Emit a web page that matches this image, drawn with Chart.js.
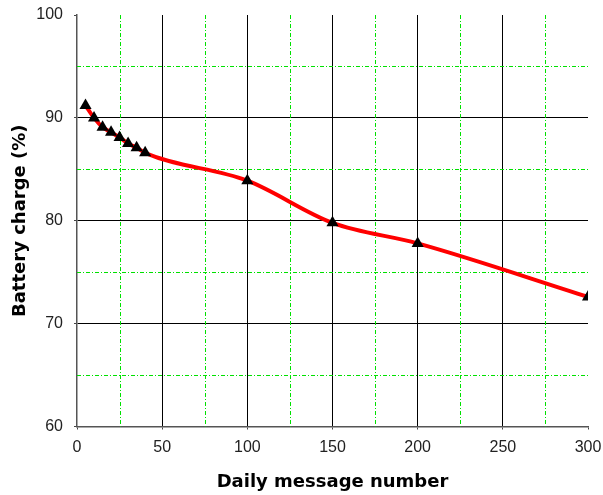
<!DOCTYPE html>
<html>
<head>
<meta charset="utf-8">
<script src="https://cdn.jsdelivr.net/npm/chart.js@4/dist/chart.umd.min.js"></script>
<style>
  html, body { margin: 0; padding: 0; background: #fff; }
  #wrap { width: 603px; height: 495px; position: relative; }
</style>
</head>
<body>
<div id="wrap"><canvas id="chartBattery"></canvas></div>
<script>
const messages = [5, 10, 15, 20, 25, 30, 35, 40, 100, 150, 200, 300];
const charge = [91.2, 90.0, 89.1, 88.6, 88.1, 87.5, 87.1, 86.6, 83.9, 79.8, 77.8, 72.6];
const xTicks = [0, 50, 100, 150, 200, 250, 300];
const yTicks = [60, 70, 80, 90, 100];
const xMinor = [25, 75, 125, 175, 225, 275];
const yMinor = [65, 75, 85, 95];

const GREEN = 'rgb(0, 225, 0)';

// minor grid: green dash-dot lines, drawn under the data
const minorGrid = {
  id: 'minorGrid',
  beforeDatasetsDraw(chart) {
    const { ctx, chartArea: a, scales: { x, y } } = chart;
    ctx.save();
    ctx.strokeStyle = GREEN;
    ctx.lineWidth = 1;
    ctx.setLineDash([4, 2, 1, 2]);
    xMinor.forEach(v => {
      const px = Math.round(x.getPixelForValue(v)) + 0.5;
      ctx.beginPath(); ctx.moveTo(px, Math.round(a.top)); ctx.lineTo(px, a.bottom); ctx.stroke();
    });
    yMinor.forEach(v => {
      const py = Math.round(y.getPixelForValue(v)) + 0.5;
      ctx.beginPath(); ctx.moveTo(Math.round(a.left), py); ctx.lineTo(a.right, py); ctx.stroke();
    });
    ctx.restore();
  },
};

document.addEventListener('DOMContentLoaded', () => {
  const ctx = document.getElementById('chartBattery');

  new Chart(ctx, {
    type: 'line',
    data: {
      datasets: [{
        data: messages.map((m, i) => ({ x: m, y: charge[i] })),
        borderColor: '#ff0000',
        borderWidth: 4,
        cubicInterpolationMode: 'monotone',
        pointStyle: 'triangle',
        pointRadius: 7,
        pointBackgroundColor: '#000',
        pointBorderColor: '#000',
        pointBorderWidth: 0,
        fill: false,
      }],
    },
    plugins: [minorGrid],
    options: {
      responsive: true, maintainAspectRatio: false, animation: false,
      layout: { padding: { top: 15, right: 15, left: 0, bottom: 0 } },
      plugins: { legend: { display: false }, tooltip: { enabled: false } },
      scales: {
        x: {
          type: 'linear', min: 0, max: 300,
          afterFit: (s) => { s.height = 68.5; s.paddingLeft = 0; s.paddingRight = 0; },
          afterBuildTicks: (s) => { s.ticks = xTicks.map(v => ({ value: v })); },
          ticks: {
            autoSkip: false, maxRotation: 0, padding: 8,
            color: '#222', font: { family: 'Liberation Sans', size: 16 },
          },
          grid: {
            color: (c) => c.tick.value === 300 || c.tick.value === 0 ? 'rgba(0,0,0,0)' : '#000',
            tickColor: '#444', tickLength: 3, lineWidth: 1,
          },
          border: { color: '#555', width: 1.5 },
          title: {
            display: true, text: 'Daily message number', color: '#000',
            font: { family: 'DejaVu Sans', size: 18, weight: 'bold' },
            padding: { top: 0, bottom: 2 },
          },
        },
        y: {
          min: 60, max: 100,
          afterFit: (s) => { s.width = 77; s.paddingTop = 0; s.paddingBottom = 0; },
          afterBuildTicks: (s) => { s.ticks = yTicks.map(v => ({ value: v })); },
          ticks: {
            autoSkip: false, padding: 11,
            color: '#222', font: { family: 'Liberation Sans', size: 16 },
          },
          grid: {
            color: (c) => c.tick.value === 100 || c.tick.value === 60 ? 'rgba(0,0,0,0)' : '#000',
            tickColor: '#444', tickLength: 3, lineWidth: 1,
          },
          border: { color: '#555', width: 1.5 },
          title: {
            display: true, text: 'Battery charge (%)', color: '#000',
            font: { family: 'DejaVu Sans', size: 18, weight: 'bold' },
            padding: { top: 10, bottom: 0 },
          },
        },
      },
    },
  });
});
</script>
</body>
</html>
